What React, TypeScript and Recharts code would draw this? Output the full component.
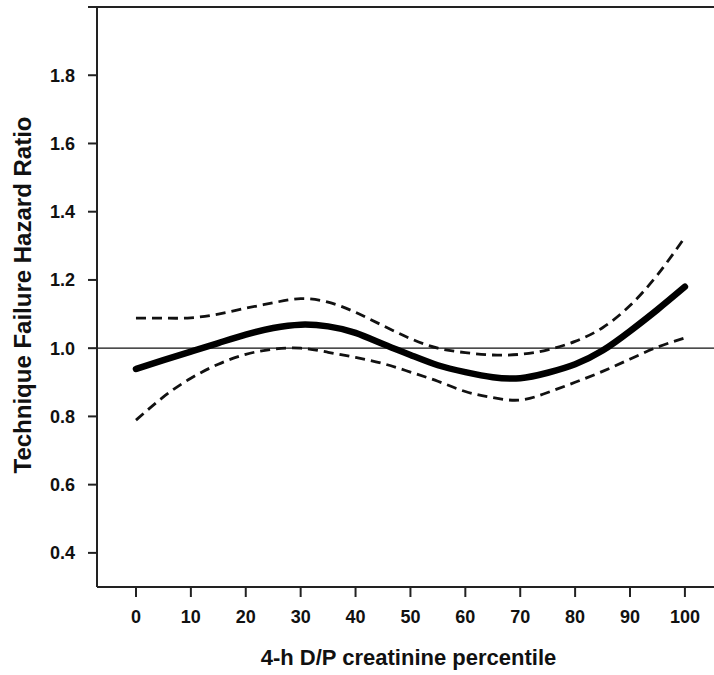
import { LineChart, Line, XAxis, YAxis, ReferenceLine, Label } from 'recharts';

// percentile grid (x) and the values
const percentile = [0, 5, 10, 15, 20, 25, 30, 35, 40, 45, 50, 55, 60, 65, 70, 75, 80, 85, 90, 95, 100];
const hazardRatio = [0.939, 0.965, 0.99, 1.015, 1.04, 1.059, 1.069, 1.064, 1.045, 1.012, 0.98, 0.95, 0.93, 0.915, 0.912, 0.928, 0.953, 0.993, 1.05, 1.113, 1.18];
const upperCI = [1.088, 1.088, 1.089, 1.1, 1.117, 1.133, 1.145, 1.135, 1.105, 1.066, 1.028, 1.0, 0.987, 0.98, 0.982, 0.995, 1.02, 1.06, 1.125, 1.215, 1.325];
const lowerCI = [0.789, 0.857, 0.912, 0.953, 0.982, 0.997, 1.0, 0.988, 0.973, 0.955, 0.93, 0.903, 0.873, 0.855, 0.848, 0.87, 0.9, 0.932, 0.968, 1.003, 1.03];

const xTicks = [0, 10, 20, 30, 40, 50, 60, 70, 80, 90, 100];
const yTicks = [0.4, 0.6, 0.8, 1.0, 1.2, 1.4, 1.6, 1.8, 2.0];

const data = percentile.map((x, i) => ({ x, hr: hazardRatio[i], hi: upperCI[i], lo: lowerCI[i] }));

const FONT = "'Liberation Sans', Arial, Helvetica, sans-serif";
const INK = '#111';
const axisStroke = { stroke: '#222', strokeWidth: 2 };
const tickStyle = { fill: INK, fontSize: 18, fontWeight: 700, fontFamily: FONT };

export default function App() {
  return (
    <div style={{ position: 'absolute', left: 0, top: 0, width: 714, height: 675, background: '#fff' }}>
      <LineChart width={714} height={675} data={data} margin={{ top: 7, right: 0, bottom: 0, left: 0 }}>
        <XAxis
          dataKey="x"
          type="number"
          domain={[-7.1, 105.3]}
          ticks={xTicks}
          allowDataOverflow
          height={88}
          tickSize={10}
          tickMargin={13}
          axisLine={axisStroke}
          tickLine={axisStroke}
          tick={tickStyle}
        >
          <Label
            content={(props: any) => {
              const vb = props.viewBox || { x: 97, width: 617 };
              return (
                <text x={vb.x + vb.width / 2 + 3} y={665} textAnchor="middle" fill={INK} fontSize={22} fontWeight={700} fontFamily={FONT}>
                  4-h D/P creatinine percentile
                </text>
              );
            }}
          />
        </XAxis>
        <YAxis
          type="number"
          domain={[0.3, 2.0]}
          ticks={yTicks}
          allowDataOverflow
          width={97}
          tickSize={9}
          tickMargin={13}
          axisLine={axisStroke}
          tickLine={axisStroke}
          tick={tickStyle}
          tickFormatter={(v: number) => (v >= 2 ? '' : v.toFixed(1))}
        >
          <Label
            content={() => (
              <text transform="translate(31,295) rotate(-90)" x={0} y={0} textAnchor="middle" fill={INK} fontSize={24} fontWeight={700} fontFamily={FONT}>
                Technique Failure Hazard Ratio
              </text>
            )}
          />
        </YAxis>
        <ReferenceLine y={2.0} stroke="#222" strokeWidth={2} />
        <ReferenceLine y={1.0} stroke="#111" strokeWidth={1.3} />
        <Line type="natural" dataKey="hi" stroke="#111" strokeWidth={2.8} strokeDasharray="10 6" dot={false} isAnimationActive={false} />
        <Line type="natural" dataKey="lo" stroke="#111" strokeWidth={2.8} strokeDasharray="10 6" dot={false} isAnimationActive={false} />
        <Line type="natural" dataKey="hr" stroke="#000" strokeWidth={6.5} strokeLinecap="round" dot={false} isAnimationActive={false} />
      </LineChart>
    </div>
  );
}
